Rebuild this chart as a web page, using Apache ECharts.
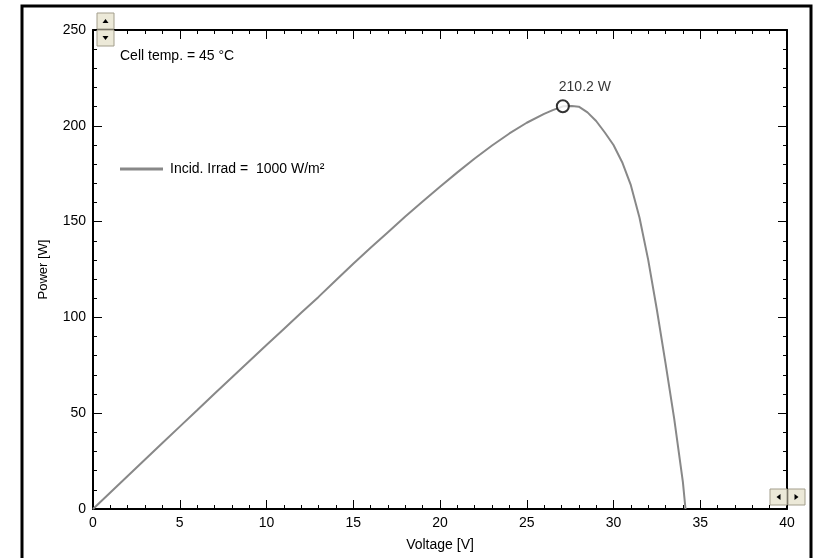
<!DOCTYPE html>
<html>
<head>
<meta charset="utf-8">
<title>Power vs Voltage</title>
<script src="https://cdn.jsdelivr.net/npm/echarts@6/dist/echarts.min.js"></script>
<style>
  html, body { margin: 0; padding: 0; background: #fff; }
  #chart { width: 816px; height: 558px; }
</style>
</head>
<body>
<div id="chart"></div>
<script>
// P-V curve
const voltage = [0, 1, 2, 3, 4, 5, 6, 7, 8, 9, 10, 11, 12, 13, 14, 15, 16, 17, 18, 19, 20,
  21, 22, 23, 24, 25, 26, 26.5, 27.1, 27.6, 28, 28.5, 29, 29.5, 30, 30.5, 31,
  31.5, 32, 32.5, 33, 33.5, 34, 34.15]
const power = [0, 8.6, 17.2, 25.8, 34.4, 43.0, 51.5, 60.1, 68.6, 77.1, 85.6, 94.0, 102.4,
  110.7, 119.4, 128.0, 136.3, 144.5, 152.6, 160.5, 168.2, 175.7, 182.9, 189.7, 196.0,
  201.6, 206.2, 208.2, 210.2, 210.3, 210.0, 207.0, 202.5, 196.5, 190.0, 181.0,
  169.0, 152.0, 130.0, 104.0, 76.0, 47.0, 14.0, 0]

const mppVoltage = [27.08]
const mppPower = [210.2]

const xTicks = { min: 0, max: 40, step: 5 }
const yTicks = { min: 0, max: 250, step: 50 }

const seriesName = 'Incid. Irrad =  1000 W/m²'
const noteText = 'Cell temp. = 45 °C'

const FONT = '"Liberation Sans", Arial, sans-serif'

const chart = echarts.init(document.getElementById('chart'))

const axisBase = {
  type: 'value',
  axisLine: { show: true, onZero: false, lineStyle: { color: '#000', width: 2 } },
  axisTick: { show: true, inside: true, length: 9, lineStyle: { color: '#000', width: 1 } },
  minorTick: { show: true, splitNumber: 5, length: 4, lineStyle: { color: '#000', width: 1 } },
  splitLine: { show: false },
  axisLabel: { color: '#000', fontSize: 14, fontFamily: FONT }
}

// small scroll buttons drawn like the original widget
function button(x, y, dir) {
  const w = 17, h = 16
  const cx = x + w / 2, cy = y + h / 2
  let pts
  if (dir === 'up') pts = [[cx - 3, cy + 2], [cx + 3, cy + 2], [cx, cy - 2]]
  else if (dir === 'down') pts = [[cx - 3, cy - 2], [cx + 3, cy - 2], [cx, cy + 2]]
  else if (dir === 'left') pts = [[cx + 2, cy - 3], [cx + 2, cy + 3], [cx - 2, cy]]
  else pts = [[cx - 2, cy - 3], [cx - 2, cy + 3], [cx + 2, cy]]
  return [
    { type: 'rect', shape: { x: x, y: y, width: w, height: h },
      style: { fill: '#ece9d8', stroke: '#a39e8c', lineWidth: 1 }, z: 100 },
    { type: 'polygon', shape: { points: pts }, style: { fill: '#000' }, z: 101 }
  ]
}

chart.setOption({
  animation: false,
  backgroundColor: '#fff',
  grid: { left: 93, right: 29, top: 30, bottom: 49 },
  legend: {
    left: 120,
    top: 162,
    padding: 0,
    itemWidth: 43,
    itemHeight: 3,
    data: [{ name: seriesName, icon: 'rect' }],
    itemStyle: { color: '#888888' },
    textStyle: { color: '#000', fontSize: 14, fontFamily: FONT, padding: [0, 0, 0, 2] }
  },
  xAxis: [
    Object.assign({}, axisBase, {
      min: xTicks.min, max: xTicks.max, interval: xTicks.step,
      position: 'bottom',
      name: 'Voltage [V]', nameLocation: 'middle', nameGap: 29,
      nameTextStyle: { color: '#000', fontSize: 14, fontFamily: FONT },
      axisLabel: Object.assign({}, axisBase.axisLabel, { margin: 7 })
    }),
    Object.assign({}, axisBase, {
      min: xTicks.min, max: xTicks.max, interval: xTicks.step,
      position: 'top',
      axisLabel: { show: false }
    })
  ],
  yAxis: [
    Object.assign({}, axisBase, {
      min: yTicks.min, max: yTicks.max, interval: yTicks.step,
      position: 'left',
      name: 'Power [W]', nameLocation: 'middle', nameGap: 43,
      nameTextStyle: { color: '#000', fontSize: 13, fontFamily: FONT },
      axisLabel: Object.assign({}, axisBase.axisLabel, { margin: 7 })
    }),
    Object.assign({}, axisBase, {
      min: yTicks.min, max: yTicks.max, interval: yTicks.step,
      position: 'right',
      axisLabel: { show: false }
    })
  ],
  series: [
    {
      name: seriesName,
      type: 'line',
      xAxisIndex: 0,
      yAxisIndex: 0,
      symbol: 'none',
      smooth: false,
      lineStyle: { color: '#888888', width: 2 },
      itemStyle: { color: '#888888' },
      data: voltage.map((v, i) => [v, power[i]])
    },
    {
      name: 'MPP',
      type: 'scatter',
      xAxisIndex: 0,
      yAxisIndex: 0,
      symbol: 'circle',
      symbolSize: 12,
      itemStyle: { color: '#fff', borderColor: '#000', borderWidth: 2 },
      label: {
        show: true,
        position: 'top',
        distance: 5,
        offset: [22, 0],
        color: '#000',
        textBorderWidth: 0,
        fontSize: 14,
        fontFamily: FONT,
        formatter: p => p.value[1].toFixed(1) + ' W'
      },
      z: 5,
      data: mppVoltage.map((v, i) => [v, mppPower[i]])
    }
  ],
  graphic: [
    { type: 'text', left: 120, top: 49,
      style: { text: noteText, fill: '#000', fontSize: 14, fontFamily: FONT } },
    // outer frame
    { type: 'polyline', shape: { points: [[22, 570], [22, 6], [811, 6], [811, 570]] },
      style: { stroke: '#000', lineWidth: 3, fill: null } }
  ]
    .concat(button(97, 13, 'up'))
    .concat(button(97, 30, 'down'))
    .concat(button(770, 489, 'left'))
    .concat(button(788, 489, 'right'))
})
</script>
</body>
</html>
